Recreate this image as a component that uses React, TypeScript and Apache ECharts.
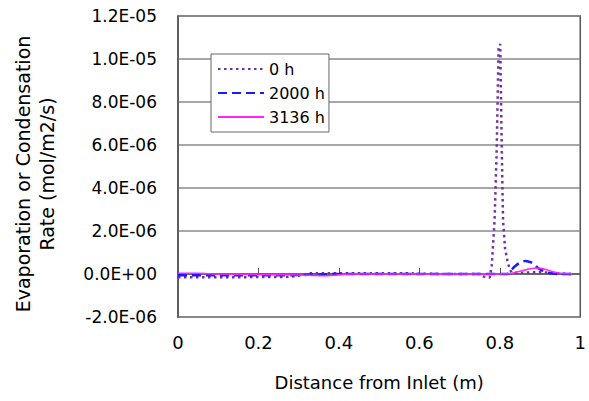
import React, { useEffect, useRef } from "react";
import * as echarts from "echarts";

const seriesNames = ["0 h", "2000 h", "3136 h"];

const x0h = [0, 0.05, 0.1, 0.15, 0.2, 0.25, 0.28, 0.3, 0.33, 0.4, 0.5, 0.58, 0.6, 0.7, 0.75, 0.76, 0.775, 0.78, 0.787, 0.792, 0.797, 0.801, 0.805, 0.808, 0.813, 0.819, 0.825, 0.83, 0.85, 0.88, 0.9, 0.93, 0.95, 0.98];
const y0h = [-1.5e-7, -1.5e-7, -1.5e-7, -1.5e-7, -1.4e-7, -1.4e-7, -1.3e-7, -0.8e-7, 0.4e-7, 0.4e-7, 0.4e-7, 0.3e-7, 0.1e-7, 0, 0, -1.2e-7, -1.6e-7, 0.4e-6, 2.5e-6, 5.6e-6, 10.5e-6, 10.7e-6, 5.6e-6, 2.5e-6, 1.2e-6, 0.6e-6, 0.2e-6, 0.06e-6, 0.05e-6, 0.08e-6, 0.08e-6, 0.06e-6, 0.02e-6, 0];

const x2000h = [0, 0.1, 0.2, 0.3, 0.35, 0.4, 0.5, 0.6, 0.7, 0.8, 0.818, 0.83, 0.84, 0.85, 0.863, 0.875, 0.882, 0.895, 0.905, 0.917, 0.93, 0.95, 0.98];
const y2000h = [-0.6e-7, -0.6e-7, -0.6e-7, -0.5e-7, -0.2e-7, 0, 0, 0, 0, 0, 0, 0.22e-6, 0.4e-6, 0.52e-6, 0.6e-6, 0.56e-6, 0.5e-6, 0.28e-6, 0.17e-6, 0.08e-6, 0.02e-6, 0, 0];

const x3136h = [0, 0.05, 0.1, 0.2, 0.3, 0.36, 0.4, 0.43, 0.5, 0.6, 0.7, 0.8, 0.826, 0.84, 0.86, 0.875, 0.89, 0.905, 0.92, 0.935, 0.95, 0.98];
const y3136h = [0.4e-7, 0.3e-7, 0, -0.3e-7, -0.5e-7, -0.8e-7, -0.4e-7, 0, 0, 0, 0, 0, 0.02e-6, 0.08e-6, 0.17e-6, 0.24e-6, 0.28e-6, 0.26e-6, 0.18e-6, 0.09e-6, 0.03e-6, 0];

const yTickLabels = ["-2.0E-06", "0.0E+00", "2.0E-06", "4.0E-06", "6.0E-06", "8.0E-06", "1.0E-05", "1.2E-05"];
const xTickLabels = ["0", "0.2", "0.4", "0.6", "0.8", "1"];

const zip = (xs: number[], ys: number[]) => xs.map((x, i) => [x, ys[i]]);

export default function App() {
  const ref = useRef<HTMLDivElement>(null);
  useEffect(() => {
    if (!ref.current) return;
    const chart = echarts.init(ref.current, undefined, { renderer: "svg" });
    const font = "DejaVu Sans";
    chart.setOption({
      animation: false,
      backgroundColor: "#fff",
      textStyle: { fontFamily: font },
      grid: {
        left: 178,
        top: 16,
        right: 3,
        bottom: 84,
        show: true,
        borderColor: "#555",
        borderWidth: 1.5,
        backgroundColor: "transparent",
      },
      legend: {
        orient: "vertical",
        left: 211,
        top: 54,
        padding: [7, 4, 7, 6],
        itemWidth: 46,
        itemHeight: 14,
        itemGap: 8,
        backgroundColor: "#fff",
        borderColor: "#666",
        borderWidth: 1,
        itemStyle: { opacity: 0 },
        textStyle: { fontFamily: font, fontSize: 16, color: "#000" },
        data: seriesNames,
      },
      graphic: [
        {
          type: "text",
          x: 35,
          y: 174,
          rotation: Math.PI / 2,
          style: {
            text: "Evaporation or Condensation\nRate (mol/m2/s)",
            fontFamily: font,
            fontSize: 19,
            lineHeight: 24,
            fill: "#000",
            align: "center",
            verticalAlign: "middle",
          },
        },
      ],
      xAxis: {
        type: "value",
        min: 0,
        max: 1,
        interval: 0.2,
        name: "Distance from Inlet (m)",
        nameLocation: "middle",
        nameGap: 56,
        nameTextStyle: { fontFamily: font, fontSize: 18, color: "#000" },
        axisLine: { show: true, lineStyle: { color: "#555", width: 1.5 } },
        axisTick: { show: true, inside: true, length: 6, lineStyle: { color: "#555" } },
        axisLabel: {
          fontFamily: font,
          fontSize: 18,
          color: "#000",
          margin: 16,
          formatter: (_v: number, i: number) => xTickLabels[i] ?? "",
        },
        splitLine: { show: false },
      },
      yAxis: {
        type: "value",
        min: -2e-6,
        max: 1.2e-5,
        interval: 2e-6,
        axisLine: { show: true, lineStyle: { color: "#555", width: 1.5 } },
        axisTick: { show: false },
        axisLabel: {
          fontFamily: font,
          fontSize: 17,
          color: "#000",
          margin: 21,
          formatter: (_v: number, i: number) => yTickLabels[i] ?? "",
        },
        splitLine: { show: true, lineStyle: { color: "#8a8a8a", width: 1.5 } },
      },
      series: [
        {
          name: seriesNames[0],
          type: "line",
          data: zip(x0h, y0h),
          showSymbol: false,
          symbol: "none",
          z: 3,
          lineStyle: { color: "#7030A0", width: 2.5, type: [2.5, 3.5] },
          itemStyle: { color: "#7030A0" },
        },
        {
          name: seriesNames[1],
          type: "line",
          data: zip(x2000h, y2000h),
          showSymbol: false,
          symbol: "none",
          z: 4,
          smooth: 0.3,
          lineStyle: { color: "#1a1aff", width: 2.5, type: [9, 5] },
          itemStyle: { color: "#1a1aff" },
        },
        {
          name: seriesNames[2],
          type: "line",
          data: zip(x3136h, y3136h),
          showSymbol: false,
          symbol: "none",
          z: 5,
          smooth: 0.3,
          lineStyle: { color: "#ff22ff", width: 1.5 },
          itemStyle: { color: "#ff22ff" },
        },
      ],
    });
    return () => chart.dispose();
  }, []);
  return <div ref={ref} style={{ width: 589, height: 401, position: "absolute", left: 0, top: 0 }} />;
}
